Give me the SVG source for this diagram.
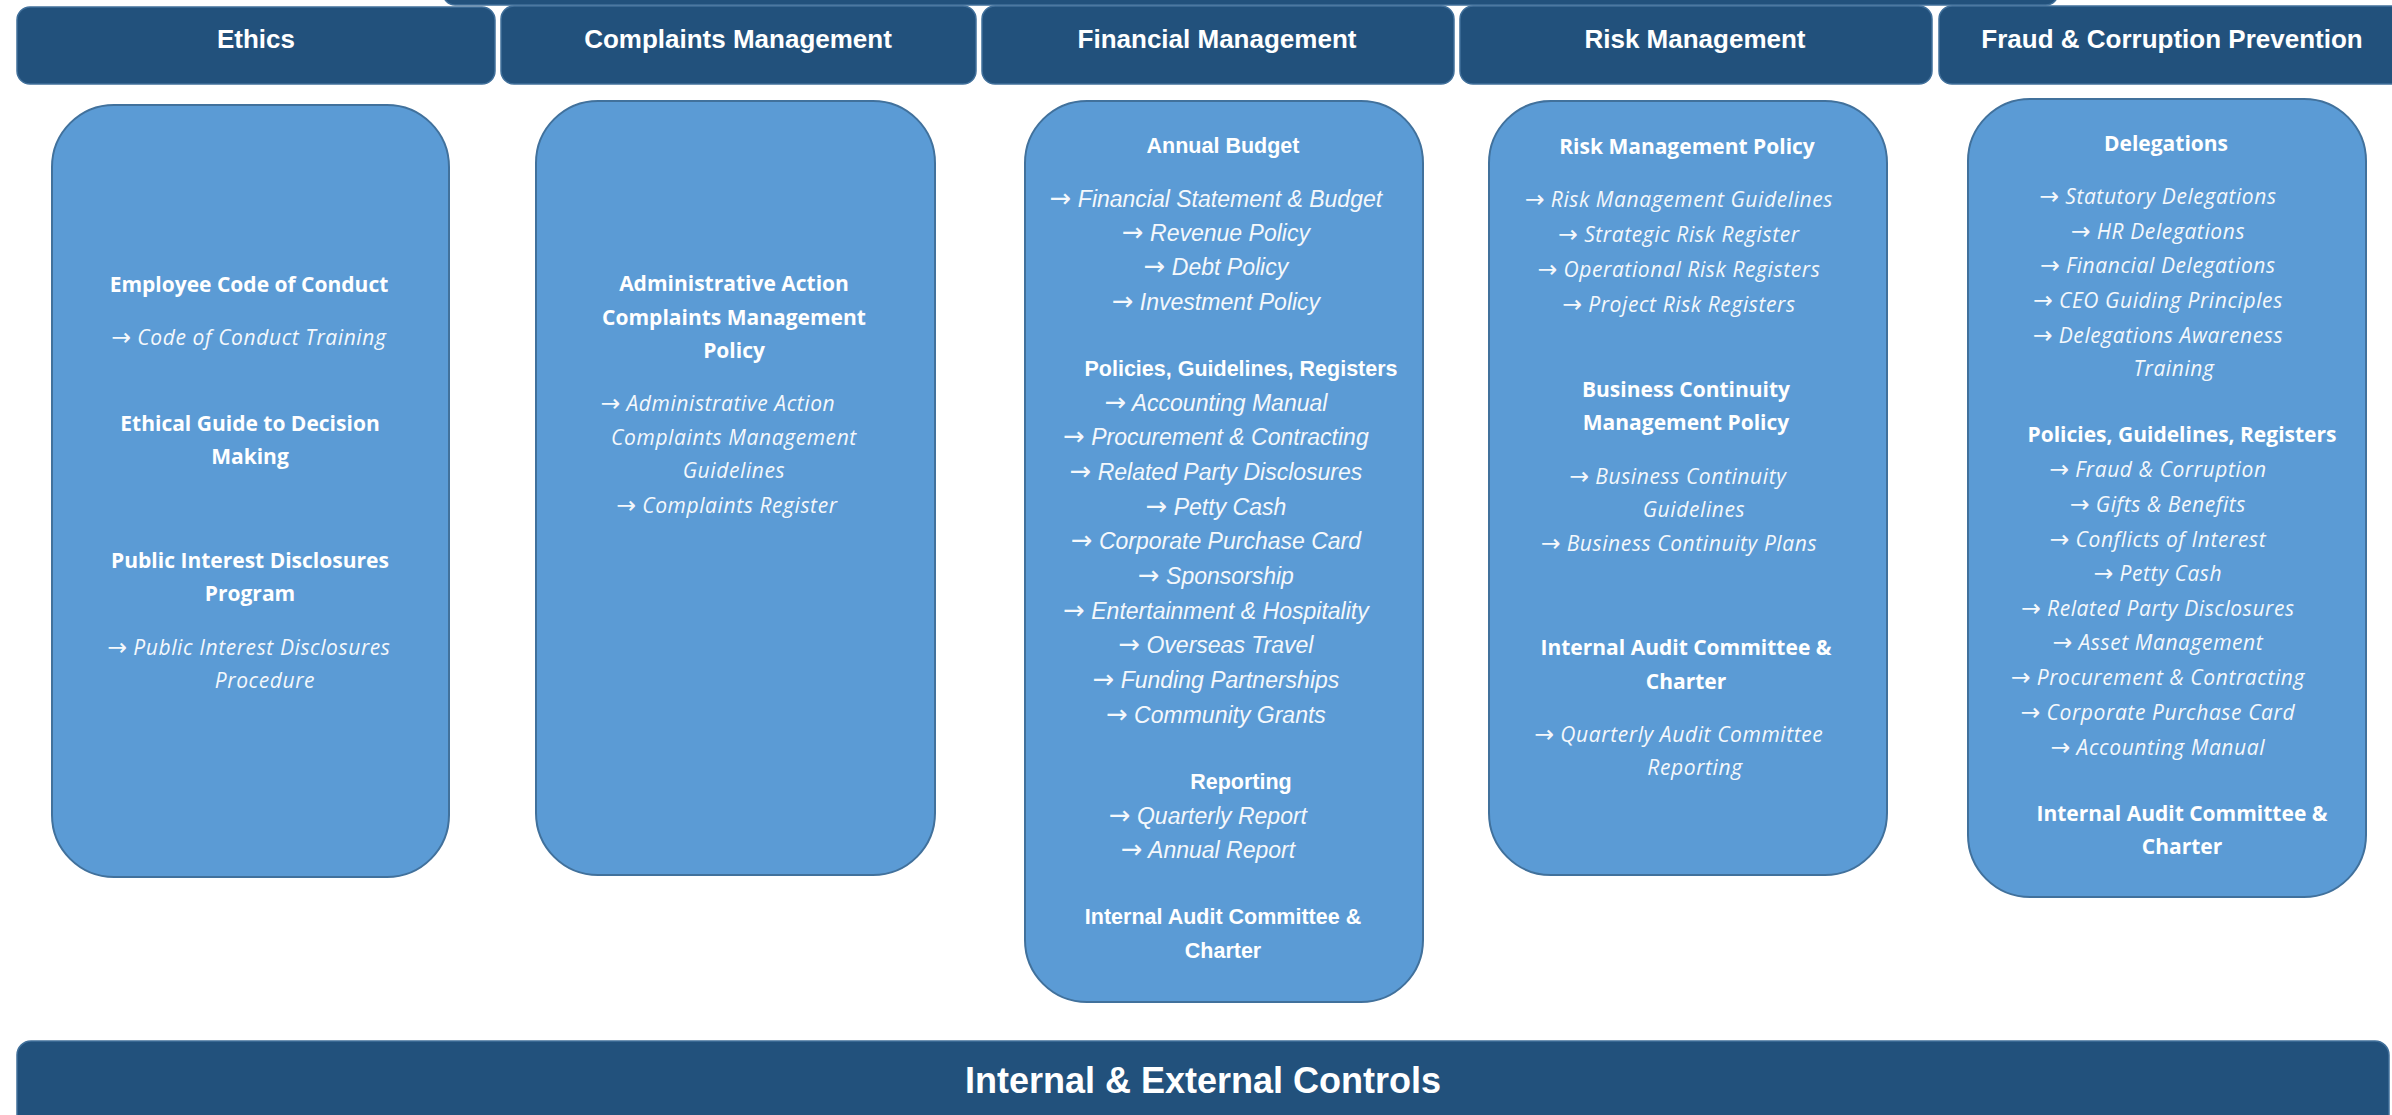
<svg xmlns="http://www.w3.org/2000/svg" width="2392" height="1115" viewBox="0 0 2392 1115">
<style>
.hdr{fill:#22517C;stroke:#41709B;stroke-width:1.5}
.box{fill:#5B9BD5;stroke:#41719C;stroke-width:2}
.ht{font-family:"Liberation Sans",Arial,sans-serif;font-weight:bold;font-size:26px;fill:#ffffff;text-anchor:middle}
.bt{font-family:"Liberation Sans",Arial,sans-serif;font-weight:bold;font-size:36px;fill:#ffffff;text-anchor:middle}
.wb{font-family:"Open Sans","DejaVu Sans",sans-serif;font-weight:bold;font-size:21px;fill:#ffffff;text-anchor:middle}
.wi{font-family:"Open Sans","DejaVu Sans",sans-serif;font-style:italic;font-size:21px;letter-spacing:0.6px;fill:#f4f8fc;text-anchor:middle}
.fb{font-family:"Liberation Sans",Arial,sans-serif;font-weight:bold;font-size:21.5px;fill:#ffffff;text-anchor:middle}
.fi{font-family:"Liberation Sans",Arial,sans-serif;font-style:italic;font-size:23px;fill:#f4f8fc;text-anchor:middle}
.ar{font-family:"DejaVu Sans",sans-serif;font-style:normal;font-weight:normal;font-size:112%;letter-spacing:0}
</style>
<rect width="2392" height="1115" fill="#ffffff"/>

<g id="top-bar">
<rect class="hdr" x="443" y="-40" width="1615" height="45" rx="12"/>
</g>

<g id="hdr-ethics">
<rect class="hdr" x="17" y="7" width="478" height="77" rx="13"/>
<text class="ht" x="256" y="48">Ethics</text>
</g>
<g id="hdr-complaints">
<rect class="hdr" x="501" y="6" width="475" height="78" rx="13"/>
<text class="ht" x="738" y="48">Complaints Management</text>
</g>
<g id="hdr-financial">
<rect class="hdr" x="982" y="6" width="472" height="78" rx="13"/>
<text class="ht" x="1217" y="48">Financial Management</text>
</g>
<g id="hdr-risk">
<rect class="hdr" x="1460" y="6" width="472" height="78" rx="13"/>
<text class="ht" x="1695" y="48">Risk Management</text>
</g>
<g id="hdr-fraud">
<rect class="hdr" x="1939" y="6" width="480" height="78" rx="13"/>
<text class="ht" x="2172" y="48">Fraud &amp; Corruption Prevention</text>
</g>

<g id="box-ethics">
<rect class="box" x="52" y="105" width="397" height="772" rx="62"/>
<text class="wb" x="249" y="292">Employee Code of Conduct</text>
<text class="wi" x="249" y="345"><tspan class="ar">→</tspan> Code of Conduct Training</text>
<text class="wb" x="250" y="431">Ethical Guide to Decision</text>
<text class="wb" x="250" y="464">Making</text>
<text class="wb" x="250" y="568">Public Interest Disclosures</text>
<text class="wb" x="250" y="601">Program</text>
<text class="wi" x="249" y="655"><tspan class="ar">→</tspan> Public Interest Disclosures</text>
<text class="wi" x="265" y="688">Procedure</text>
</g>

<g id="box-complaints">
<rect class="box" x="536" y="101" width="399" height="774" rx="62"/>
<text class="wb" x="734" y="291">Administrative Action</text>
<text class="wb" x="734" y="325">Complaints Management</text>
<text class="wb" x="734" y="358">Policy</text>
<text class="wi" x="718" y="411"><tspan class="ar">→</tspan> Administrative Action</text>
<text class="wi" x="734" y="445">Complaints Management</text>
<text class="wi" x="734" y="478">Guidelines</text>
<text class="wi" x="727" y="513"><tspan class="ar">→</tspan> Complaints Register</text>
</g>

<g id="box-financial">
<rect class="box" x="1025" y="101" width="398" height="901" rx="62"/>
<text class="fb" x="1223" y="153">Annual Budget</text>
<text class="fi" x="1216" y="207"><tspan class="ar">→</tspan> Financial Statement &amp; Budget</text>
<text class="fi" x="1216" y="241"><tspan class="ar">→</tspan> Revenue Policy</text>
<text class="fi" x="1216" y="275"><tspan class="ar">→</tspan> Debt Policy</text>
<text class="fi" x="1216" y="310"><tspan class="ar">→</tspan> Investment Policy</text>
<text class="fb" x="1241" y="376">Policies, Guidelines, Registers</text>
<text class="fi" x="1216" y="411"><tspan class="ar">→</tspan> Accounting Manual</text>
<text class="fi" x="1216" y="445"><tspan class="ar">→</tspan> Procurement &amp; Contracting</text>
<text class="fi" x="1216" y="480"><tspan class="ar">→</tspan> Related Party Disclosures</text>
<text class="fi" x="1216" y="515"><tspan class="ar">→</tspan> Petty Cash</text>
<text class="fi" x="1216" y="549"><tspan class="ar">→</tspan> Corporate Purchase Card</text>
<text class="fi" x="1216" y="584"><tspan class="ar">→</tspan> Sponsorship</text>
<text class="fi" x="1216" y="619"><tspan class="ar">→</tspan> Entertainment &amp; Hospitality</text>
<text class="fi" x="1216" y="653"><tspan class="ar">→</tspan> Overseas Travel</text>
<text class="fi" x="1216" y="688"><tspan class="ar">→</tspan> Funding Partnerships</text>
<text class="fi" x="1216" y="723"><tspan class="ar">→</tspan> Community Grants</text>
<text class="fb" x="1241" y="789">Reporting</text>
<text class="fi" x="1208" y="824"><tspan class="ar">→</tspan> Quarterly Report</text>
<text class="fi" x="1208" y="858"><tspan class="ar">→</tspan> Annual Report</text>
<text class="fb" x="1223" y="924">Internal Audit Committee &amp;</text>
<text class="fb" x="1223" y="958">Charter</text>
</g>

<g id="box-risk">
<rect class="box" x="1489" y="101" width="398" height="774" rx="62"/>
<text class="wb" x="1687" y="154">Risk Management Policy</text>
<text class="wi" x="1679" y="207"><tspan class="ar">→</tspan> Risk Management Guidelines</text>
<text class="wi" x="1679" y="242"><tspan class="ar">→</tspan> Strategic Risk Register</text>
<text class="wi" x="1679" y="277"><tspan class="ar">→</tspan> Operational Risk Registers</text>
<text class="wi" x="1679" y="312"><tspan class="ar">→</tspan> Project Risk Registers</text>
<text class="wb" x="1686" y="397">Business Continuity</text>
<text class="wb" x="1686" y="430">Management Policy</text>
<text class="wi" x="1678" y="484"><tspan class="ar">→</tspan> Business Continuity</text>
<text class="wi" x="1694" y="517">Guidelines</text>
<text class="wi" x="1679" y="551"><tspan class="ar">→</tspan> Business Continuity Plans</text>
<text class="wb" x="1686" y="655">Internal Audit Committee &amp;</text>
<text class="wb" x="1686" y="689">Charter</text>
<text class="wi" x="1679" y="742"><tspan class="ar">→</tspan> Quarterly Audit Committee</text>
<text class="wi" x="1695" y="775">Reporting</text>
</g>

<g id="box-fraud">
<rect class="box" x="1968" y="99" width="398" height="798" rx="62"/>
<text class="wb" x="2166" y="151">Delegations</text>
<text class="wi" x="2158" y="204"><tspan class="ar">→</tspan> Statutory Delegations</text>
<text class="wi" x="2158" y="239"><tspan class="ar">→</tspan> HR Delegations</text>
<text class="wi" x="2158" y="273"><tspan class="ar">→</tspan> Financial Delegations</text>
<text class="wi" x="2158" y="308"><tspan class="ar">→</tspan> CEO Guiding Principles</text>
<text class="wi" x="2158" y="343"><tspan class="ar">→</tspan> Delegations Awareness</text>
<text class="wi" x="2174" y="376">Training</text>
<text class="wb" x="2182" y="442">Policies, Guidelines, Registers</text>
<text class="wi" x="2158" y="477"><tspan class="ar">→</tspan> Fraud &amp; Corruption</text>
<text class="wi" x="2158" y="512"><tspan class="ar">→</tspan> Gifts &amp; Benefits</text>
<text class="wi" x="2158" y="547"><tspan class="ar">→</tspan> Conflicts of Interest</text>
<text class="wi" x="2158" y="581"><tspan class="ar">→</tspan> Petty Cash</text>
<text class="wi" x="2158" y="616"><tspan class="ar">→</tspan> Related Party Disclosures</text>
<text class="wi" x="2158" y="650"><tspan class="ar">→</tspan> Asset Management</text>
<text class="wi" x="2158" y="685"><tspan class="ar">→</tspan> Procurement &amp; Contracting</text>
<text class="wi" x="2158" y="720"><tspan class="ar">→</tspan> Corporate Purchase Card</text>
<text class="wi" x="2158" y="755"><tspan class="ar">→</tspan> Accounting Manual</text>
<text class="wb" x="2182" y="821">Internal Audit Committee &amp;</text>
<text class="wb" x="2182" y="854">Charter</text>
</g>

<g id="bottom-bar">
<rect class="hdr" x="17" y="1041" width="2372" height="110" rx="14"/>
<text class="bt" x="1203" y="1093">Internal &amp; External Controls</text>
</g>

<g id="connectors"></g>
</svg>
